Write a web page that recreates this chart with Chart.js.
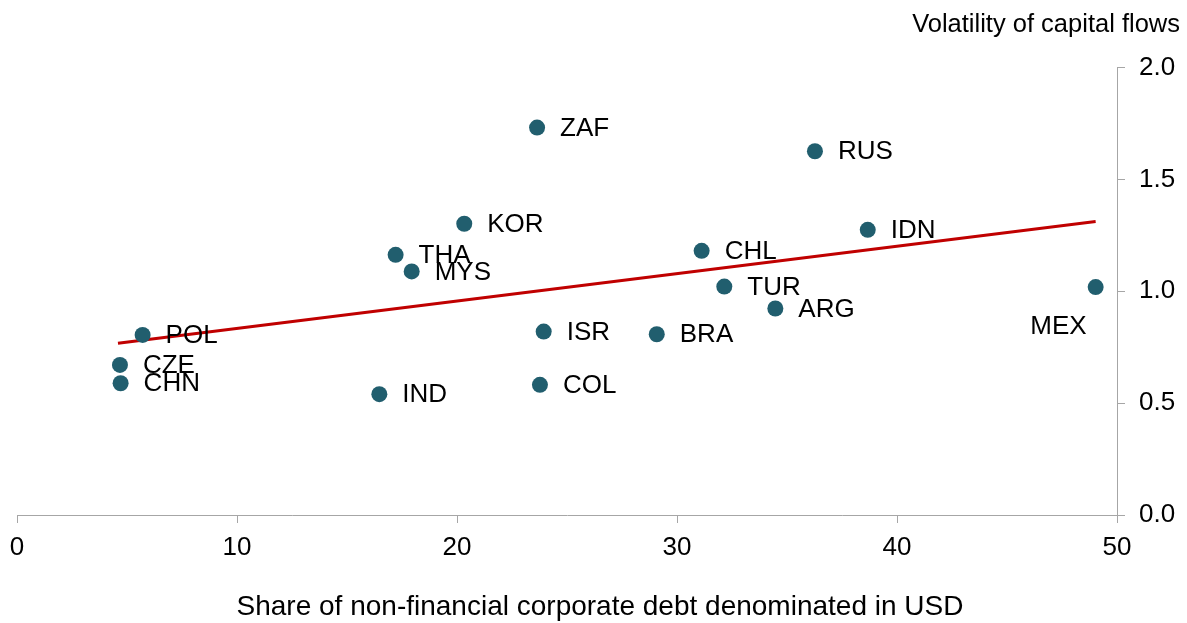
<!DOCTYPE html>
<html>
<head>
<meta charset="utf-8">
<script src="https://cdn.jsdelivr.net/npm/chart.js@4/dist/chart.umd.min.js"></script>
<style>
  html, body { margin: 0; padding: 0; background: #fff; }
  #wrap { width: 1187px; height: 623px; position: relative; }
</style>
</head>
<body>
<div id="wrap"><canvas id="myChart"></canvas></div>
<script>
// dati
const countries = ["ZAF", "RUS", "KOR", "IDN", "THA", "CHL", "MYS", "TUR", "MEX", "ARG", "ISR", "BRA", "POL", "CZE", "CHN", "COL", "IND"];
const usdShare = [23.64, 36.27, 20.33, 38.67, 17.21, 31.12, 17.94, 32.15, 49.03, 34.47, 23.94, 29.08, 5.71, 4.68, 4.71, 23.77, 16.47];
const volatility = [1.732, 1.626, 1.302, 1.275, 1.163, 1.181, 1.089, 1.021, 1.019, 0.923, 0.820, 0.808, 0.805, 0.671, 0.589, 0.582, 0.540];
const trendX = [4.59, 49.03];
const trendY = [0.768, 1.312];
const xTicks = [0, 10, 20, 30, 40, 50];
const yTicks = [0, 0.5, 1.0, 1.5, 2.0];
const xTitle = "Share of non-financial corporate debt denominated in USD";
const yTitle = "Volatility of capital flows";

const fontFamily = "'Liberation Sans', Arial, sans-serif";
const axisGray = "#A6A6A6";

var points = usdShare.map((x, i) => ({ x: x, y: volatility[i] }));
var trend = trendX.map((x, i) => ({ x: x, y: trendY[i] }));

// etichette dei paesi accanto ai punti + titolo asse X
const pointLabels = {
  id: "pointLabels",
  afterDatasetsDraw(chart) {
    var ctx = chart.ctx;
    var meta = chart.getDatasetMeta(1);
    ctx.save();
    ctx.font = "26px " + fontFamily;
    ctx.fillStyle = "#000";
    ctx.textBaseline = "middle";
    meta.data.forEach((pt, i) => {
      var name = countries[i];
      if (name === "MEX") {
        ctx.textAlign = "right";
        ctx.fillText(name, pt.x - 9, pt.y + 40);
      } else {
        ctx.textAlign = "left";
        ctx.fillText(name, pt.x + 23, pt.y + 1);
      }
    });
    ctx.font = "28px " + fontFamily;
    ctx.textAlign = "center";
    ctx.fillText(xTitle, 600, 607);
    ctx.restore();
  }
};

Chart.defaults.font.family = fontFamily;
Chart.defaults.font.size = 26;
Chart.defaults.color = "#000";

var ctx = document.getElementById("myChart").getContext("2d");
var myChart = new Chart(ctx, {
  type: "scatter",
  data: {
    datasets: [
      {
        type: "line",
        label: "trend",
        data: trend,
        borderColor: "#C00000",
        borderWidth: 3,
        pointRadius: 0,
        fill: false,
        order: 2
      },
      {
        label: "countries",
        data: points,
        backgroundColor: "#215E6E",
        borderWidth: 0,
        pointRadius: 8,
        pointHoverRadius: 8,
        order: 1
      }
    ]
  },
  options: {
    responsive: true,
    maintainAspectRatio: false,
    animation: false,
    layout: { padding: { left: 17, right: 7, top: 0, bottom: 0 } },
    plugins: {
      legend: { display: false },
      tooltip: { enabled: false },
      title: {
        display: true,
        text: yTitle,
        align: "end",
        color: "#000",
        font: { size: 25.5, weight: "normal" },
        padding: { top: 10, bottom: 27 }
      }
    },
    scales: {
      x: {
        type: "linear",
        min: 0,
        max: 50,
        afterBuildTicks: (s) => { s.ticks = xTicks.map(v => ({ value: v })); },
        afterFit: (s) => { s.height = 108; },
        border: { color: axisGray, width: 1 },
        grid: { drawOnChartArea: false, drawTicks: true, tickLength: 8, color: axisGray },
        ticks: { padding: 9, color: "#000", font: { size: 26 } },
        title: { display: false }
      },
      y: {
        type: "linear",
        position: "right",
        min: 0,
        max: 2,
        afterBuildTicks: (s) => { s.ticks = yTicks.map(v => ({ value: v })); },
        afterFit: (s) => { s.width = 63; },
        border: { color: axisGray, width: 1 },
        grid: { drawOnChartArea: false, drawTicks: true, tickLength: 8, color: axisGray },
        ticks: {
          padding: 14,
          color: "#000",
          font: { size: 26 },
          callback: (v) => Number(v).toFixed(1)
        }
      }
    }
  },
  plugins: [pointLabels]
});
</script>
</body>
</html>
